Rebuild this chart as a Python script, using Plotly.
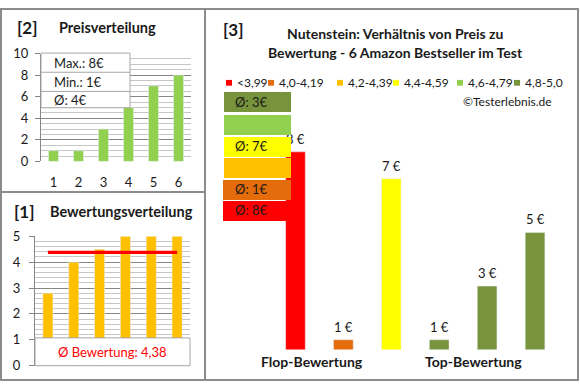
import plotly.graph_objects as go

W, H = 580, 390
def X(px): return px / W
def Y(py): return 1 - py / H

# ---------------- data ----------------
products = [1, 2, 3, 4, 5, 6]
prices = [8, 1, 7, 1, 3, 5]
ratings = [2.8, 4.0, 4.5, 5.0, 5.0, 5.0]
price_dist = [1, 1, 3, 5, 7, 8]
avg_rating = 4.38
avg_rating_label = "Ø Bewertung: 4,38"
price_stats = ["Max.: 8€", "Min.: 1€", "Ø: 4€"]
legend_labels = ["<3,99", "4,0-4,19", "4,2-4,39", "4,4-4,59", "4,6-4,79", "4,8-5,0"]
class_upper = [3.99, 4.19, 4.39, 4.59, 4.79, 5.0]
class_colors = ["#FF0000", "#E46C0A", "#FFC000", "#FFFF00", "#92D050", "#77933C"]
class_avg_labels = ["Ø: 8€", "Ø: 1€", "", "Ø: 7€", "", "Ø: 3€"]
bar_labels = [f"{p} €" for p in prices]
group_labels = ["Flop-Bewertung", "Top-Bewertung"]

def rating_class(r):
    for i, u in enumerate(class_upper):
        if r <= u:
            return i
    return len(class_upper) - 1

bar_colors = [class_colors[rating_class(r)] for r in ratings]

FONT = "Lato"
TXT = "#1a1a1a"
GRID_MAJ = "#868686"
GRID_MIN = "#C6C6C6"
BORDER = "#8C8C8C"

fig = go.Figure()
fig.add_trace(go.Bar(x=products, y=price_dist, marker_color="#92D050", width=0.4,
                     xaxis="x", yaxis="y", showlegend=False))
fig.add_trace(go.Bar(x=products, y=ratings, marker_color="#FFC000", width=0.39,
                     xaxis="x2", yaxis="y2", showlegend=False))
fig.add_trace(go.Scatter(x=products, y=[avg_rating] * len(products), mode="lines",
                         line=dict(color="#FF0000", width=3.2),
                         xaxis="x2", yaxis="y2", showlegend=False))
fig.add_trace(go.Bar(x=products, y=prices, marker_color=bar_colors, width=0.41,
                     xaxis="x3", yaxis="y3", showlegend=False))

shapes = []
annotations = []

def rect(x0, y0, x1, y1, line=BORDER, lw=2, fill=None, layer="above"):
    d = dict(type="rect", xref="paper", yref="paper", x0=X(x0), x1=X(x1), y0=Y(y1), y1=Y(y0),
             line=dict(color=line, width=lw), layer=layer)
    if fill:
        d["fillcolor"] = fill
    shapes.append(d)

def hline(x0, x1, y, color=BORDER, lw=2):
    shapes.append(dict(type="line", xref="paper", yref="paper", x0=X(x0), x1=X(x1), y0=Y(y), y1=Y(y),
                       line=dict(color=color, width=lw), layer="above"))

def vline(x, y0, y1, color=BORDER, lw=2):
    shapes.append(dict(type="line", xref="paper", yref="paper", x0=X(x), x1=X(x), y0=Y(y0), y1=Y(y1),
                       line=dict(color=color, width=lw), layer="above"))

def text(t, x, y, size=12, bold=False, color=TXT, xanchor="center"):
    annotations.append(dict(text=f"<b>{t}</b>" if bold else t, xref="paper", yref="paper",
                            x=X(x), y=Y(y), xanchor=xanchor, yanchor="middle", showarrow=False,
                            font=dict(family=FONT, size=size, color=color)))

# panel borders
rect(1, 1, 578, 388)
vline(205, 1, 388)
hline(1, 205, 192)

# ---- panel [2]
text("[2]", 27, 20, 17, True)
text("Preisverteilung", 57, 20, 14.5, True, xanchor="left")
rect(41, 47, 130, 104, line="#A6A6A6", lw=1, fill="white")
hline(41, 130, 67, "#A6A6A6", 1)
hline(41, 130, 87, "#A6A6A6", 1)
for i, s in enumerate(price_stats):
    text(s, 52, [57, 77, 96][i], 13, xanchor="left")

# ---- panel [1]
text("[1]", 24, 212, 17, True)
text("Bewertungsverteilung", 48, 212, 14.5, True, xanchor="left")
rect(35, 344, 190, 373, line="#A6A6A6", lw=1, fill="white")
text(avg_rating_label, 112, 359, 13, color="#FF0000")

# ---- panel [3]
text("[3]", 233, 22, 17, True)
text("Nutenstein: Verhältnis von Preis zu", 395, 27, 14, True)
text("Bewertung - 6 Amazon Bestseller im Test", 395, 46, 14, True)
leg_sq = [226, 268, 337, 393, 457, 514]
for i, lab in enumerate(legend_labels):
    rect(leg_sq[i], 75, leg_sq[i] + 6, 81, line=class_colors[i], lw=0, fill=class_colors[i])
    text(lab, leg_sq[i] + 9, 78, 12, xanchor="left")
text("©Testerlebnis.de", 554, 98, 12, xanchor="right")
text(group_labels[0], 312, 369, 14, True)
text(group_labels[1], 473, 369, 14, True)

# bar value labels (data coordinates)
for xv, yv, lab in zip(products, prices, bar_labels):
    annotations.append(dict(text=lab, xref="x3", yref="y3", x=xv, y=yv, yshift=13,
                            yanchor="middle", showarrow=False,
                            font=dict(family=FONT, size=13, color=TXT)))

# class average boxes (drawn over the labels)
box_tops = [201, 179, 156, 134, 112, 88]
box_left = [223, 223, 224, 224, 224, 224]
for i in range(6):
    annotations.append(dict(text=" ", xref="paper", yref="paper", x=X(box_left[i]), y=Y(box_tops[i]),
                            xanchor="left", yanchor="top", width=291 - box_left[i], height=20,
                            bgcolor=class_colors[i], borderpad=0, borderwidth=0, showarrow=False,
                            font=dict(family=FONT, size=12, color=TXT)))
    if class_avg_labels[i]:
        text(class_avg_labels[i], 233, box_tops[i] + 10, 13, xanchor="left")

axis_font = dict(family=FONT, size=13, color=TXT)
fig.update_layout(
    width=W, height=H, margin=dict(l=0, r=0, t=0, b=0),
    paper_bgcolor="white", plot_bgcolor="white", bargap=0.6,
    shapes=shapes, annotations=annotations, showlegend=False,
    xaxis=dict(domain=[X(41), X(191)], range=[0.5, 6.5], anchor="y", tickvals=products,
               showgrid=False, zeroline=False, showline=False, ticks="", tickfont=axis_font,
               ticklabelstandoff=12, fixedrange=True),
    yaxis=dict(domain=[Y(160), Y(47.5)], range=[0, 10], anchor="x", dtick=2,
               gridcolor=GRID_MAJ, gridwidth=1, zeroline=False, showline=True, linecolor=GRID_MAJ,
               ticks="outside", ticklen=5, tickcolor=GRID_MAJ, tickfont=axis_font,
               ticklabelstandoff=4,
               minor=dict(dtick=0.5, showgrid=True, gridcolor=GRID_MIN, gridwidth=1),
               fixedrange=True),
    xaxis2=dict(domain=[X(35), X(190)], range=[0.5, 6.5], anchor="y2", showticklabels=False,
                showgrid=False, zeroline=False, showline=False, ticks="", fixedrange=True),
    yaxis2=dict(domain=[Y(373), Y(238)], range=[0, 5], anchor="x2", dtick=1,
                gridcolor=GRID_MAJ, gridwidth=1, zeroline=False, showline=True, linecolor=GRID_MAJ,
                ticks="outside", ticklen=5, tickcolor=GRID_MAJ, tickfont=axis_font,
                ticklabelstandoff=6,
                minor=dict(dtick=0.2, showgrid=True, gridcolor=GRID_MIN, gridwidth=1),
                fixedrange=True),
    xaxis3=dict(domain=[X(271.5), X(559)], range=[0.5, 6.5], anchor="y3", visible=False),
    yaxis3=dict(domain=[Y(356), Y(88)], range=[0.643, 10.214], anchor="x3", visible=False),
)

fig.write_html("out.html", config={"displayModeBar": False},
               post_script="document.body.style.margin='0';")
